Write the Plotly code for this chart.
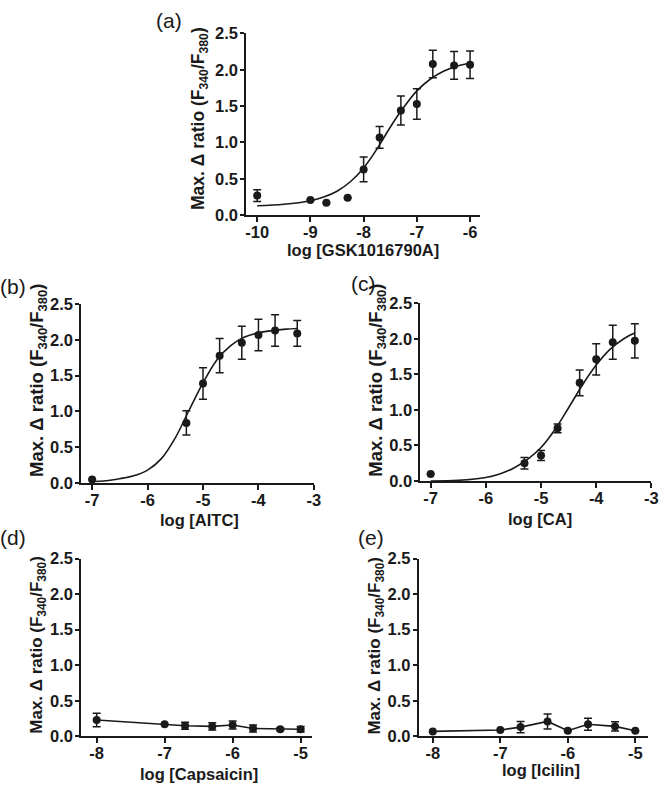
import plotly.graph_objects as go

W, H = 665, 791

# ---------------- data ----------------
# (a) GSK1016790A
a_x = [-10, -9, -8.7, -8.3, -8, -7.7, -7.3, -7, -6.7, -6.3, -6]
a_y = [0.27, 0.21, 0.17, 0.24, 0.63, 1.07, 1.44, 1.53, 2.08, 2.06, 2.07]
a_err = [0.08, None, None, None, 0.17, 0.15, 0.20, 0.21, 0.19, 0.19, 0.19]
a_fit_x = [-10, -9.5, -9, -8.75, -8.5, -8.25, -8, -7.75, -7.5, -7.25, -7, -6.75, -6.5, -6.25, -6]
a_fit_y = [0.13, 0.15, 0.20, 0.25, 0.33, 0.46, 0.65, 0.91, 1.21, 1.48, 1.71, 1.87, 1.98, 2.05, 2.09]

# (b) AITC
b_x = [-7, -5.3, -5, -4.7, -4.3, -4, -3.7, -3.3]
b_y = [0.05, 0.84, 1.39, 1.78, 1.96, 2.07, 2.13, 2.09]
b_err = [None, 0.17, 0.22, 0.24, 0.23, 0.22, 0.22, 0.18]
b_fit_x = [-7, -6.75, -6.5, -6.25, -6, -5.75, -5.5, -5.25, -5, -4.75, -4.5, -4.25, -4, -3.75, -3.5, -3.3]
b_fit_y = [0.02, 0.03, 0.06, 0.10, 0.18, 0.34, 0.63, 1.02, 1.40, 1.72, 1.92, 2.04, 2.10, 2.13, 2.15, 2.16]

# (c) CA
c_x = [-7, -5.3, -5, -4.7, -4.3, -4, -3.7, -3.3]
c_y = [0.10, 0.25, 0.36, 0.74, 1.38, 1.71, 1.95, 1.97]
c_err = [None, 0.08, 0.07, 0.06, 0.18, 0.22, 0.24, 0.24]
c_fit_x = [-7, -6.5, -6, -5.75, -5.5, -5.25, -5, -4.75, -4.5, -4.25, -4, -3.75, -3.5, -3.3]
c_fit_y = [0.0, 0.01, 0.05, 0.10, 0.18, 0.30, 0.47, 0.72, 1.03, 1.35, 1.63, 1.85, 2.00, 2.08]

# (d) Capsaicin
d_x = [-8, -7, -6.7, -6.3, -6, -5.7, -5.3, -5]
d_y = [0.23, 0.17, 0.15, 0.14, 0.16, 0.11, 0.10, 0.10]
d_err = [0.095, None, 0.05, 0.05, 0.055, 0.05, 0.02, 0.04]

# (e) Icilin
e_x = [-8, -7, -6.7, -6.3, -6, -5.7, -5.3, -5]
e_y = [0.07, 0.09, 0.13, 0.21, 0.08, 0.17, 0.14, 0.08]
e_err = [None, None, 0.08, 0.105, None, 0.085, 0.065, None]

y_tickvals = [0, 0.5, 1.0, 1.5, 2.0, 2.5]
y_ticktext = ["0.0", "0.5", "1.0", "1.5", "2.0", "2.5"]
a_xticks = [-10, -9, -8, -7, -6]
bc_xticks = [-7, -6, -5, -4, -3]
de_xticks = [-8, -7, -6, -5]

panel_labels = ["(a)", "(b)", "(c)", "(d)", "(e)"]
x_titles = ["log [GSK1016790A]", "log [AITC]", "log [CA]", "log [Capsaicin]", "log [Icilin]"]
y_title = "Max. \u0394 ratio (F<sub>340</sub>/F<sub>380</sub>)"

# ---------------- layout geometry (pixels) ----------------
# (left, right, top, bottom, xrange, xticks)
panels = [
    (248, 485, 25, 211, [-10.21, -5.81], a_xticks),
    (81, 316.7, 302, 485, [-7.2, -3.0], bc_xticks),
    (424.3, 658.3, 301, 483, [-7.19, -3.0], bc_xticks),
    (81, 315, 562.3, 744.3, [-8.23, -4.83], de_xticks),
    (422.7, 655, 562.3, 744.3, [-8.21, -4.81], de_xticks),
]

ink = "#1a1a1a"
FONT = "Liberation Sans, Arial, Helvetica, sans-serif"

fig = go.Figure()


def add_points(idx, xs, ys, errs, mode="markers"):
    axn = "" if idx == 0 else str(idx + 1)
    fig.add_trace(go.Scatter(
        x=xs, y=ys, mode=mode,
        xaxis="x" + axn, yaxis="y" + axn,
        marker=dict(color=ink, size=8, symbol="circle"),
        line=dict(color=ink, width=1.6),
        error_y=dict(type="data", array=errs, visible=True, color=ink,
                     thickness=1.5, width=4),
        cliponaxis=False, showlegend=False,
    ))


def add_curve(idx, xs, ys):
    axn = "" if idx == 0 else str(idx + 1)
    fig.add_trace(go.Scatter(
        x=xs, y=ys, mode="lines",
        xaxis="x" + axn, yaxis="y" + axn,
        line=dict(color=ink, width=1.6, shape="spline", smoothing=1.0),
        showlegend=False,
    ))


add_curve(0, a_fit_x, a_fit_y)
add_points(0, a_x, a_y, a_err)
add_curve(1, b_fit_x, b_fit_y)
add_points(1, b_x, b_y, b_err)
add_curve(2, c_fit_x, c_fit_y)
add_points(2, c_x, c_y, c_err)
add_points(3, d_x, d_y, d_err, mode="lines+markers")
add_points(4, e_x, e_y, e_err, mode="lines+markers")

layout = dict(
    width=W, height=H,
    margin=dict(l=0, r=0, t=0, b=0),
    paper_bgcolor="white", plot_bgcolor="white",
    showlegend=False,
    font=dict(family=FONT, color=ink),
)

for i, (l, r, t, b, xr, xt) in enumerate(panels):
    axn = "" if i == 0 else str(i + 1)
    layout["xaxis" + axn] = dict(
        domain=[l / W, r / W], range=xr, anchor="y" + axn,
        tickvals=xt, ticktext=[str(v) for v in xt],
        showline=True, linecolor=ink, linewidth=1.6,
        ticks="outside", ticklen=5, tickwidth=1.6, tickcolor=ink,
        showgrid=False, zeroline=False, ticklabelstandoff=-4,
        tickfont=dict(family=FONT, size=16.5, color=ink, weight="bold"),
    )
    layout["yaxis" + axn] = dict(
        domain=[1 - b / H, 1 - t / H], range=[0, 2.5], anchor="x" + axn,
        tickvals=y_tickvals, ticktext=y_ticktext,
        showline=True, linecolor=ink, linewidth=1.6,
        ticks="outside", ticklen=4, tickwidth=1.6, tickcolor=ink,
        showgrid=False, zeroline=False, ticklabelstandoff=-1,
        tickfont=dict(family=FONT, size=16.5, color=ink, weight="bold"),
    )

fig.update_layout(**layout)

# annotations: panel labels, axis titles
label_pos = [(170, 12), (12, 284), (367, 281), (12, 541), (374, 541)]
ytitle_pos = [(201, 112), (38, 380), (381, 380), (38, 651), (380, 651)]
ytitle_size = [17.5, 18.5, 18.5, 17, 17]
xtitle_pos = [(366, 247), (201, 523), (546, 522), (200, 783), (547, 779)]

for i in range(5):
    lx, ly = label_pos[i]
    fig.add_annotation(x=lx / W, y=1 - ly / H, xref="paper", yref="paper",
                       text=panel_labels[i], showarrow=False,
                       xanchor="center", yanchor="middle",
                       font=dict(family=FONT, size=21, color=ink))
    tx, ty = ytitle_pos[i]
    fig.add_annotation(x=tx / W, y=1 - ty / H, xref="paper", yref="paper",
                       text=y_title, showarrow=False, textangle=-90,
                       xanchor="center", yanchor="middle",
                       font=dict(family=FONT, size=ytitle_size[i], color=ink, weight="bold"))
    xx, xy = xtitle_pos[i]
    fig.add_annotation(x=xx / W, y=1 - xy / H, xref="paper", yref="paper",
                       text=x_titles[i], showarrow=False,
                       xanchor="center", yanchor="middle",
                       font=dict(family=FONT, size=16.5, color=ink, weight="bold"))

page_fix = (
    "document.documentElement.style.margin='0';"
    "document.documentElement.style.padding='0';"
    "document.documentElement.style.overflow='hidden';"
    "document.body.style.margin='0';"
    "document.body.style.padding='0';"
    "document.body.style.overflow='hidden';"
)

fig.write_html("out.html", config={"displayModeBar": False}, post_script=page_fix)
